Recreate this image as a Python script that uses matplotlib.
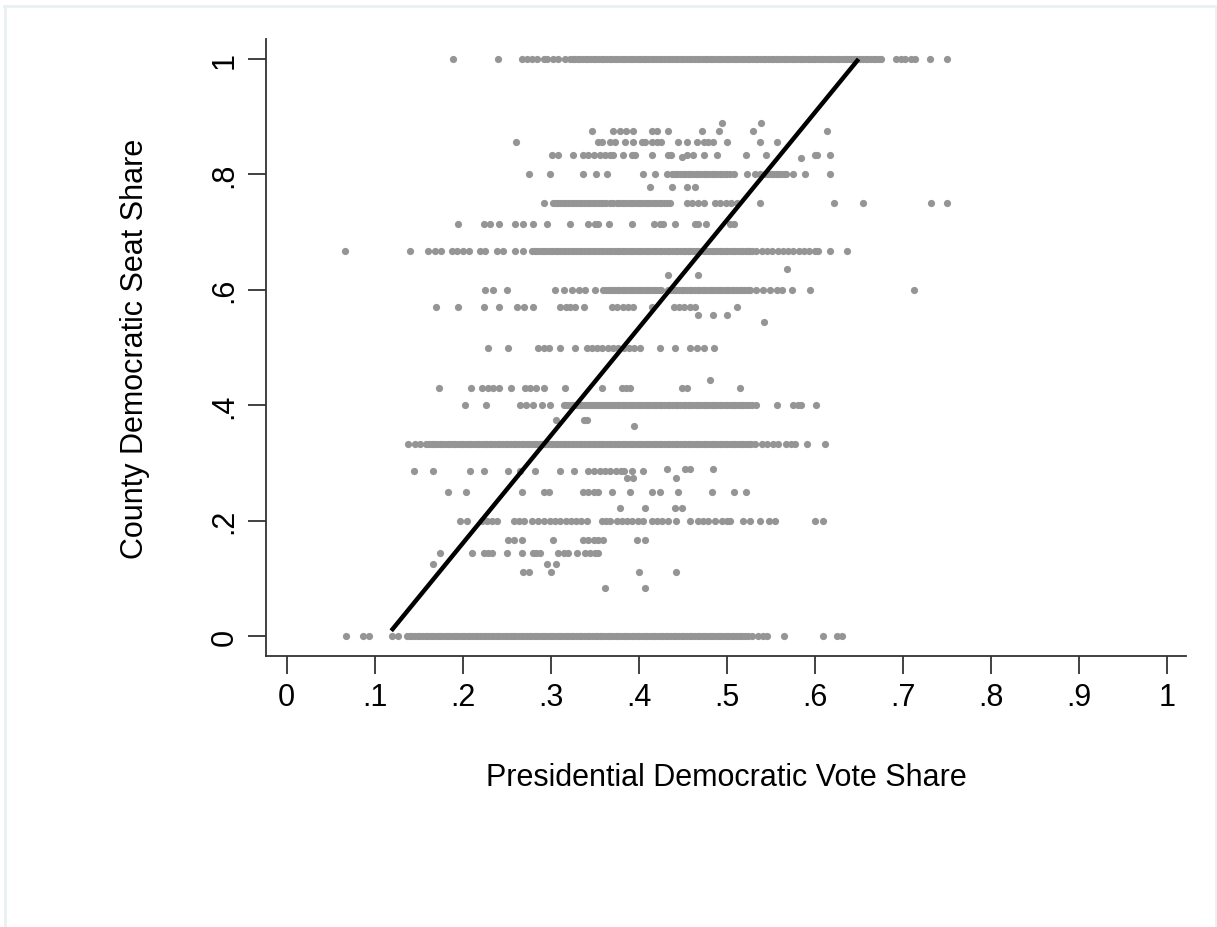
# County seat share vs presidential vote share (Stata-style scatter)

import numpy as np
import matplotlib.pyplot as plt
from matplotlib.lines import Line2D

# x positions (vote share) of the counties, one list per seat-share level
x_1000 = [0.189, 0.240, 0.267, 0.273, 0.279, 0.285, 0.292, 0.296, 0.303, 0.309, 0.316, 0.322,
          0.328, 0.334, 0.340, 0.346, 0.352, 0.358, 0.364, 0.370, 0.376, 0.382, 0.388, 0.394,
          0.400, 0.406, 0.412, 0.418, 0.424, 0.430, 0.436, 0.442, 0.448, 0.454, 0.460, 0.466,
          0.472, 0.478, 0.484, 0.490, 0.496, 0.502, 0.508, 0.514, 0.520, 0.526, 0.532, 0.538,
          0.544, 0.550, 0.556, 0.562, 0.568, 0.574, 0.580, 0.586, 0.592, 0.598, 0.604, 0.610,
          0.616, 0.622, 0.628, 0.634, 0.640, 0.646, 0.652, 0.658, 0.664, 0.670, 0.676,
          0.693, 0.698, 0.703, 0.710, 0.714, 0.731, 0.750]
x_889 = [0.495, 0.539]
x_875 = [0.347, 0.371, 0.379, 0.386, 0.394, 0.415, 0.421, 0.434, 0.472, 0.491, 0.530, 0.614]
x_857 = [0.261, 0.354, 0.358, 0.368, 0.373, 0.385, 0.394, 0.404, 0.407, 0.415, 0.421, 0.426,
         0.445, 0.455, 0.466, 0.474, 0.479, 0.485, 0.500, 0.538, 0.557]
x_833 = [0.302, 0.308, 0.326, 0.337, 0.343, 0.349, 0.356, 0.362, 0.368, 0.371, 0.382, 0.392,
         0.396, 0.415, 0.434, 0.437, 0.455, 0.462, 0.474, 0.489, 0.522, 0.545, 0.601, 0.603, 0.617]
x_800 = [0.275, 0.299, 0.337, 0.352, 0.364, 0.405, 0.419, 0.432, 0.438, 0.444, 0.450, 0.456,
         0.462, 0.468, 0.474, 0.480, 0.486, 0.492, 0.498, 0.504, 0.508, 0.523, 0.532, 0.538,
         0.544, 0.550, 0.556, 0.562, 0.568, 0.576, 0.589, 0.618]
x_778 = [0.413, 0.438, 0.455, 0.464]
x_750 = [0.293, 0.303, 0.309, 0.315, 0.321, 0.327, 0.333, 0.339, 0.345, 0.351, 0.357, 0.363,
         0.368, 0.375, 0.381, 0.387, 0.393, 0.399, 0.405, 0.411, 0.417, 0.423, 0.429, 0.436,
         0.455, 0.461, 0.467, 0.474, 0.487, 0.493, 0.499, 0.505, 0.512, 0.538, 0.622, 0.655,
         0.732, 0.750]
x_714 = [0.195, 0.224, 0.231, 0.241, 0.260, 0.269, 0.280, 0.296, 0.322, 0.343, 0.351, 0.354,
         0.366, 0.392, 0.417, 0.424, 0.428, 0.441, 0.464, 0.468, 0.477, 0.504, 0.508]
x_667 = [0.066, 0.140, 0.161, 0.169, 0.176, 0.188, 0.194, 0.200, 0.207, 0.220, 0.226, 0.239,
         0.246, 0.260, 0.269, 0.279, 0.285, 0.291, 0.297, 0.303, 0.309, 0.315, 0.321, 0.327,
         0.333, 0.339, 0.345, 0.351, 0.357, 0.363, 0.369, 0.375, 0.381, 0.387, 0.393, 0.399,
         0.405, 0.411, 0.417, 0.423, 0.429, 0.435, 0.441, 0.447, 0.453, 0.459, 0.465, 0.471,
         0.477, 0.483, 0.489, 0.495, 0.501, 0.507, 0.513, 0.519, 0.525, 0.529, 0.534, 0.540,
         0.546, 0.552, 0.558, 0.564, 0.570, 0.576, 0.582, 0.588, 0.594, 0.600, 0.604, 0.617, 0.637]
x_636 = [0.569]
x_625 = [0.434, 0.468]
x_600 = [0.226, 0.235, 0.250, 0.305, 0.315, 0.324, 0.332, 0.339, 0.351, 0.360, 0.366, 0.372,
         0.378, 0.384, 0.390, 0.396, 0.402, 0.408, 0.414, 0.420, 0.426, 0.434, 0.440, 0.446,
         0.452, 0.458, 0.464, 0.470, 0.476, 0.482, 0.488, 0.494, 0.500, 0.506, 0.512, 0.518,
         0.524, 0.527, 0.534, 0.541, 0.549, 0.557, 0.563, 0.574, 0.595, 0.713]
x_571 = [0.170, 0.195, 0.224, 0.241, 0.262, 0.270, 0.280, 0.311, 0.317, 0.322, 0.328, 0.338,
         0.370, 0.376, 0.382, 0.388, 0.394, 0.415, 0.440, 0.446, 0.452, 0.458, 0.464, 0.512]
x_556 = [0.467, 0.485, 0.500]
x_545 = [0.542]
x_500 = [0.229, 0.252, 0.286, 0.292, 0.298, 0.311, 0.328, 0.341, 0.347, 0.353, 0.359, 0.365,
         0.371, 0.377, 0.383, 0.389, 0.395, 0.402, 0.424, 0.441, 0.459, 0.466, 0.474, 0.486]
x_444 = [0.481]
x_429 = [0.173, 0.210, 0.222, 0.229, 0.235, 0.241, 0.255, 0.271, 0.277, 0.283, 0.292, 0.316,
         0.358, 0.381, 0.386, 0.390, 0.449, 0.455, 0.515]
x_400 = [0.203, 0.227, 0.265, 0.272, 0.280, 0.290, 0.299, 0.315, 0.321, 0.327, 0.333, 0.339,
         0.345, 0.351, 0.357, 0.363, 0.369, 0.375, 0.381, 0.387, 0.393, 0.399, 0.405, 0.411,
         0.417, 0.423, 0.429, 0.435, 0.441, 0.447, 0.453, 0.459, 0.465, 0.471, 0.477, 0.483,
         0.489, 0.495, 0.501, 0.507, 0.513, 0.519, 0.525, 0.534, 0.557, 0.576, 0.581, 0.585, 0.602]
x_375 = [0.306, 0.338, 0.341]
x_364 = [0.395]
x_333 = [0.138, 0.146, 0.152, 0.159, 0.165, 0.171, 0.177, 0.183, 0.189, 0.195, 0.201, 0.207,
         0.213, 0.219, 0.225, 0.231, 0.237, 0.243, 0.249, 0.255, 0.261, 0.267, 0.273, 0.279,
         0.285, 0.291, 0.297, 0.303, 0.309, 0.315, 0.321, 0.327, 0.333, 0.339, 0.345, 0.351,
         0.357, 0.363, 0.369, 0.375, 0.381, 0.387, 0.393, 0.399, 0.405, 0.411, 0.417, 0.423,
         0.429, 0.435, 0.441, 0.447, 0.453, 0.459, 0.465, 0.471, 0.477, 0.483, 0.489, 0.495,
         0.501, 0.507, 0.513, 0.519, 0.525, 0.532, 0.540, 0.546, 0.553, 0.559, 0.568, 0.573,
         0.578, 0.591, 0.612]
x_289 = [0.432, 0.453, 0.459, 0.485]
x_286 = [0.145, 0.167, 0.209, 0.224, 0.252, 0.265, 0.282, 0.311, 0.327, 0.343, 0.349, 0.356,
         0.362, 0.368, 0.374, 0.380, 0.383, 0.392, 0.405]
x_273 = [0.387, 0.394, 0.443]
x_250 = [0.184, 0.204, 0.267, 0.292, 0.298, 0.337, 0.343, 0.349, 0.354, 0.370, 0.390, 0.415,
         0.424, 0.445, 0.484, 0.509, 0.522]
x_222 = [0.379, 0.407, 0.441, 0.449]
x_200 = [0.197, 0.205, 0.222, 0.228, 0.234, 0.239, 0.258, 0.264, 0.270, 0.279, 0.286, 0.292,
         0.299, 0.305, 0.311, 0.317, 0.323, 0.329, 0.335, 0.341, 0.358, 0.363, 0.368, 0.375,
         0.381, 0.387, 0.393, 0.399, 0.405, 0.415, 0.421, 0.427, 0.433, 0.443, 0.459, 0.468,
         0.473, 0.479, 0.487, 0.495, 0.500, 0.504, 0.519, 0.527, 0.538, 0.548, 0.555, 0.601, 0.610]
x_167 = [0.252, 0.258, 0.267, 0.303, 0.337, 0.343, 0.349, 0.354, 0.360, 0.398, 0.407]
x_143 = [0.174, 0.211, 0.224, 0.229, 0.233, 0.250, 0.268, 0.280, 0.284, 0.288, 0.309, 0.315,
         0.320, 0.330, 0.339, 0.345, 0.351, 0.354]
x_125 = [0.167, 0.296, 0.306]
x_111 = [0.269, 0.275, 0.300, 0.400, 0.443]
x_083 = [0.362, 0.407]
x_000 = [0.068, 0.087, 0.094, 0.120, 0.127, 0.137, 0.143, 0.149, 0.155, 0.161, 0.167, 0.173,
         0.179, 0.185, 0.191, 0.197, 0.203, 0.209, 0.215, 0.221, 0.227, 0.233, 0.239, 0.245,
         0.251, 0.257, 0.263, 0.269, 0.275, 0.281, 0.287, 0.293, 0.299, 0.305, 0.311, 0.317,
         0.323, 0.329, 0.335, 0.341, 0.347, 0.353, 0.359, 0.365, 0.371, 0.377, 0.383, 0.389,
         0.395, 0.401, 0.407, 0.413, 0.419, 0.425, 0.431, 0.437, 0.443, 0.449, 0.455, 0.461,
         0.467, 0.473, 0.479, 0.485, 0.491, 0.497, 0.503, 0.509, 0.515, 0.521, 0.529, 0.536,
         0.541, 0.546, 0.565, 0.610, 0.625, 0.631]

# extra counties packed in between in the crowded stretches of the main levels
more_1000 = [0.325, 0.331, 0.337, 0.343, 0.349, 0.355, 0.361, 0.367, 0.373, 0.379, 0.385,
             0.391, 0.397, 0.403, 0.409, 0.415, 0.421, 0.427, 0.433, 0.439, 0.445, 0.451,
             0.457, 0.463, 0.469, 0.475, 0.481, 0.487, 0.493, 0.499, 0.505, 0.511, 0.517,
             0.523, 0.529, 0.535, 0.541, 0.547, 0.553, 0.559, 0.565, 0.571, 0.577, 0.583,
             0.589, 0.595, 0.601, 0.607, 0.613, 0.619, 0.625, 0.631, 0.637, 0.643, 0.649,
             0.655, 0.661, 0.667, 0.673]
more_800 = [0.441, 0.447, 0.453, 0.459, 0.465, 0.471, 0.477, 0.483, 0.489, 0.495, 0.501,
            0.547, 0.553, 0.559, 0.565]
more_750 = [0.306, 0.312, 0.318, 0.324, 0.330, 0.336, 0.342, 0.348, 0.354, 0.360, 0.371,
            0.378, 0.384, 0.390, 0.396, 0.402, 0.408, 0.414, 0.420, 0.426, 0.432]
more_667 = [0.282, 0.288, 0.294, 0.300, 0.306, 0.312, 0.318, 0.324, 0.330, 0.336, 0.342,
            0.348, 0.354, 0.360, 0.366, 0.372, 0.378, 0.384, 0.390, 0.396, 0.402, 0.408,
            0.414, 0.420, 0.426, 0.432, 0.438, 0.444, 0.450, 0.456, 0.462, 0.468, 0.474,
            0.480, 0.486, 0.492, 0.498, 0.504, 0.510, 0.516, 0.522, 0.526]
more_600 = [0.363, 0.369, 0.375, 0.381, 0.387, 0.393, 0.399, 0.405, 0.411, 0.417, 0.423,
            0.437, 0.443, 0.449, 0.455, 0.461, 0.467, 0.473, 0.479, 0.485, 0.491, 0.497,
            0.503, 0.509, 0.515, 0.521]
more_400 = [0.318, 0.324, 0.330, 0.336, 0.342, 0.348, 0.354, 0.360, 0.366, 0.372, 0.378,
            0.384, 0.390, 0.396, 0.402, 0.408, 0.414, 0.420, 0.426, 0.432, 0.438, 0.444,
            0.450, 0.456, 0.462, 0.468, 0.474, 0.480, 0.486, 0.492, 0.498, 0.504, 0.510,
            0.516, 0.522, 0.529]
more_333 = [0.162, 0.168, 0.174, 0.180, 0.186, 0.192, 0.198, 0.204, 0.210, 0.216, 0.222,
            0.228, 0.234, 0.240, 0.246, 0.252, 0.258, 0.264, 0.270, 0.276, 0.282, 0.288,
            0.294, 0.300, 0.306, 0.312, 0.318, 0.324, 0.330, 0.336, 0.342, 0.348, 0.354,
            0.360, 0.366, 0.372, 0.378, 0.384, 0.390, 0.396, 0.402, 0.408, 0.414, 0.420,
            0.426, 0.432, 0.438, 0.444, 0.450, 0.456, 0.462, 0.468, 0.474, 0.480, 0.486,
            0.492, 0.498, 0.504, 0.510, 0.516, 0.522, 0.528]
more_000 = [0.140, 0.146, 0.152, 0.158, 0.164, 0.170, 0.176, 0.182, 0.188, 0.194, 0.200,
            0.206, 0.212, 0.218, 0.224, 0.230, 0.236, 0.242, 0.248, 0.254, 0.260, 0.266,
            0.272, 0.278, 0.284, 0.290, 0.296, 0.302, 0.308, 0.314, 0.320, 0.326, 0.332,
            0.338, 0.344, 0.350, 0.356, 0.362, 0.368, 0.374, 0.380, 0.386, 0.392, 0.398,
            0.404, 0.410, 0.416, 0.422, 0.428, 0.434, 0.440, 0.446, 0.452, 0.458, 0.464,
            0.470, 0.476, 0.482, 0.488, 0.494, 0.500, 0.506, 0.512, 0.518, 0.524]

# a couple of points that sit slightly off a level
odd_x = [0.449, 0.585]
odd_y = [0.830, 0.828]

# fitted line end points
fit_x = [0.119, 0.650]
fit_y = [0.009, 1.000]

levels = [(1.0, x_1000 + more_1000), (0.889, x_889), (0.875, x_875), (0.857, x_857),
          (0.833, x_833), (0.8, x_800 + more_800), (0.778, x_778), (0.75, x_750 + more_750),
          (0.714, x_714), (0.667, x_667 + more_667), (0.636, x_636), (0.625, x_625),
          (0.6, x_600 + more_600), (0.571, x_571), (0.556, x_556), (0.545, x_545),
          (0.5, x_500), (0.444, x_444), (0.429, x_429), (0.4, x_400 + more_400),
          (0.375, x_375), (0.364, x_364), (0.333, x_333 + more_333), (0.289, x_289),
          (0.286, x_286), (0.273, x_273), (0.25, x_250), (0.222, x_222), (0.2, x_200),
          (0.167, x_167), (0.143, x_143), (0.125, x_125), (0.111, x_111), (0.083, x_083),
          (0.0, x_000 + more_000)]

xs = []
ys = []
for lev, row in levels:
    xs += row
    ys += [lev] * len(row)
xs += odd_x
ys += odd_y

plt.rcParams['font.family'] = ['Liberation Sans', 'DejaVu Sans']

fig = plt.figure(figsize=(12.17, 9.28), dpi=100)
ax = fig.add_axes([266/1217, 1-657/928, 920/1217, 617/928])

ax.scatter(xs, ys, s=27, color='#959595', linewidths=0, zorder=2)
ax.plot(fit_x, fit_y, color='black', lw=3.2, solid_capstyle='butt', zorder=3)

ax.set_xlim(-0.0233, 1.022)
ax.set_ylim(-0.0347, 1.0347)

xt = [0, .1, .2, .3, .4, .5, .6, .7, .8, .9, 1]
xl = ['0', '.1', '.2', '.3', '.4', '.5', '.6', '.7', '.8', '.9', '1']
yt = [0, .2, .4, .6, .8, 1]
yl = ['0', '.2', '.4', '.6', '.8', '1']
ax.set_xticks(xt)
ax.set_xticklabels(xl)
ax.set_yticks(yt)
ax.set_yticklabels(yl, rotation=90, va='center')
ax.tick_params(direction='out', length=13, width=1.3, color='#333333', labelsize=22, pad=6)

for s in ['top', 'right']:
    ax.spines[s].set_visible(False)
for s in ['left', 'bottom']:
    ax.spines[s].set_linewidth(1.3)
    ax.spines[s].set_color('#333333')

ax.set_xlabel('Presidential Democratic Vote Share', fontsize=22, labelpad=36)
ax.set_ylabel('County Democratic Seat Share', fontsize=22, labelpad=43)

# light outer frame
fc = '#e9f1f2'
fig.add_artist(Line2D([4/1217, 1214/1217], [1-7/928, 1-7/928], color=fc, lw=2))
fig.add_artist(Line2D([5/1217, 5/1217], [0, 1-7/928], color=fc, lw=2))
fig.add_artist(Line2D([1216/1217, 1216/1217], [0, 1-7/928], color=fc, lw=2))

fig.savefig('out.png', dpi=100)
